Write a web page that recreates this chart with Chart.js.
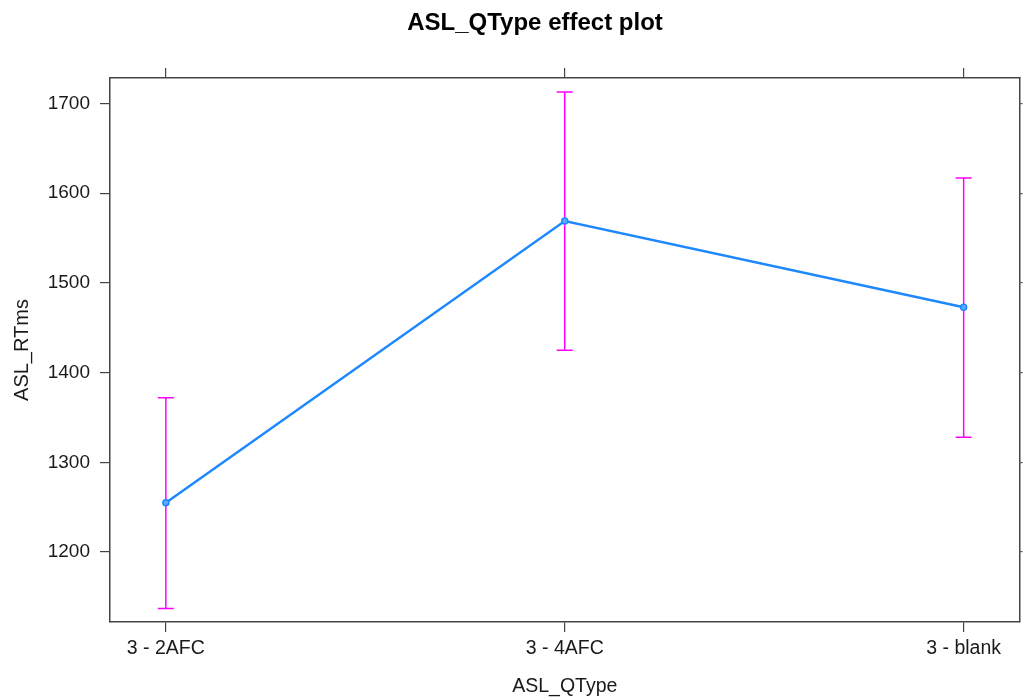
<!DOCTYPE html>
<html>
<head>
<meta charset="utf-8">
<script src="https://cdn.jsdelivr.net/npm/chart.js@4"></script>
<style>
  body { margin: 0; background: #fff; }
</style>
</head>
<body>
<canvas id="effectChart" width="1025" height="698"></canvas>
<script>
let categories = ['3 - 2AFC', '3 - 4AFC', '3 - blank'];
let fitValues = [1255, 1569, 1473];
let lowerValues = [1137, 1425, 1328];
let upperValues = [1372, 1713, 1617];
let yTicks = [1200, 1300, 1400, 1500, 1600, 1700];
let xTicks = [0, 1, 2];
let plotTitle = 'ASL_QType effect plot';

let frameColor = '#444';
let textColor = '#1a1a1a';
let fontName = '"Liberation Sans", Arial, sans-serif';

// magenta error bars drawn under the line
let errorBars = {
  id: 'errorBars',
  beforeDatasetsDraw: function(chart) {
    let ctx = chart.ctx;
    let xs = chart.scales.x;
    let ys = chart.scales.y;
    ctx.save();
    ctx.strokeStyle = '#ff00ff';
    ctx.lineWidth = 1.5;
    for (let i = 0; i < categories.length; i++) {
      let px = xs.getPixelForValue(i);
      let lo = ys.getPixelForValue(lowerValues[i]);
      let hi = ys.getPixelForValue(upperValues[i]);
      ctx.beginPath();
      ctx.moveTo(px, lo); ctx.lineTo(px, hi);
      ctx.moveTo(px - 8, lo); ctx.lineTo(px + 8, lo);
      ctx.moveTo(px - 8, hi); ctx.lineTo(px + 8, hi);
      ctx.stroke();
    }
    ctx.restore();
  }
};

// title sits a bit left of the canvas centre, like the lattice output
let titleText = {
  id: 'titleText',
  afterDraw: function(chart) {
    let ctx = chart.ctx;
    ctx.save();
    ctx.fillStyle = '#000';
    ctx.font = 'bold 24px ' + fontName;
    ctx.textAlign = 'center';
    ctx.textBaseline = 'middle';
    ctx.fillText(plotTitle, 535, 23);
    ctx.restore();
  }
};

let points = fitValues.map(function(v, i) { return { x: i, y: v }; });

let ctx = document.getElementById('effectChart').getContext('2d');
let chart = new Chart(ctx, {
  type: 'line',
  data: {
    datasets: [{
      data: points,
      borderColor: '#1e88ff',
      borderWidth: 2.5,
      pointRadius: 3,
      pointBorderWidth: 1.5,
      pointBackgroundColor: '#5aaaff',
      pointBorderColor: '#1e88ff',
      tension: 0
    }]
  },
  plugins: [errorBars, titleText],
  options: {
    responsive: false,
    animation: false,
    devicePixelRatio: 1,
    layout: { padding: 0 },
    plugins: {
      legend: { display: false },
      tooltip: { enabled: false },
      title: { display: false }
    },
    scales: {
      x: {
        type: 'linear',
        position: 'bottom',
        min: -0.14,
        max: 2.14,
        afterBuildTicks: function(s) { s.ticks = xTicks.map(function(v) { return { value: v }; }); },
        afterFit: function(s) { s.height = 76; },
        ticks: {
          color: textColor,
          font: { family: fontName, size: 19.5 },
          padding: 5,
          maxRotation: 0,
          callback: function(v) { return categories[v]; }
        },
        grid: { drawOnChartArea: false, drawTicks: true, tickLength: 10, color: frameColor, lineWidth: 1.2 },
        border: { display: true, color: frameColor, width: 1.5 },
        title: {
          display: true, text: 'ASL_QType', color: textColor,
          font: { family: fontName, size: 19.5 }, padding: { top: 0, bottom: 0 }
        }
      },
      x2: {
        type: 'linear',
        position: 'top',
        min: -0.14,
        max: 2.14,
        afterBuildTicks: function(s) { s.ticks = xTicks.map(function(v) { return { value: v }; }); },
        afterFit: function(s) { s.height = 78; },
        ticks: { display: false },
        grid: { drawOnChartArea: false, drawTicks: true, tickLength: 10, color: frameColor, lineWidth: 1.2 },
        border: { display: true, color: frameColor, width: 1.5 }
      },
      y: {
        type: 'linear',
        position: 'left',
        min: 1122,
        max: 1728.5,
        afterBuildTicks: function(s) { s.ticks = yTicks.map(function(v) { return { value: v }; }); },
        afterFit: function(s) { s.width = 110; },
        ticks: {
          color: textColor,
          font: { family: fontName, size: 19 },
          padding: 10,
          callback: function(v) { return String(v); }
        },
        grid: { drawOnChartArea: false, drawTicks: true, tickLength: 10, color: frameColor, lineWidth: 1.2 },
        border: { display: true, color: frameColor, width: 1.5 },
        title: {
          display: true, text: 'ASL_RTms', color: textColor,
          font: { family: fontName, size: 20 }, padding: { top: 10, bottom: 0 }
        }
      },
      y2: {
        type: 'linear',
        position: 'right',
        min: 1122,
        max: 1728.5,
        afterBuildTicks: function(s) { s.ticks = yTicks.map(function(v) { return { value: v }; }); },
        afterFit: function(s) { s.width = 3; },
        ticks: { display: false },
        grid: { drawOnChartArea: false, drawTicks: true, tickLength: 3, color: frameColor, lineWidth: 1.2 },
        border: { display: true, color: frameColor, width: 1.5 }
      }
    }
  }
});
</script>
</body>
</html>
